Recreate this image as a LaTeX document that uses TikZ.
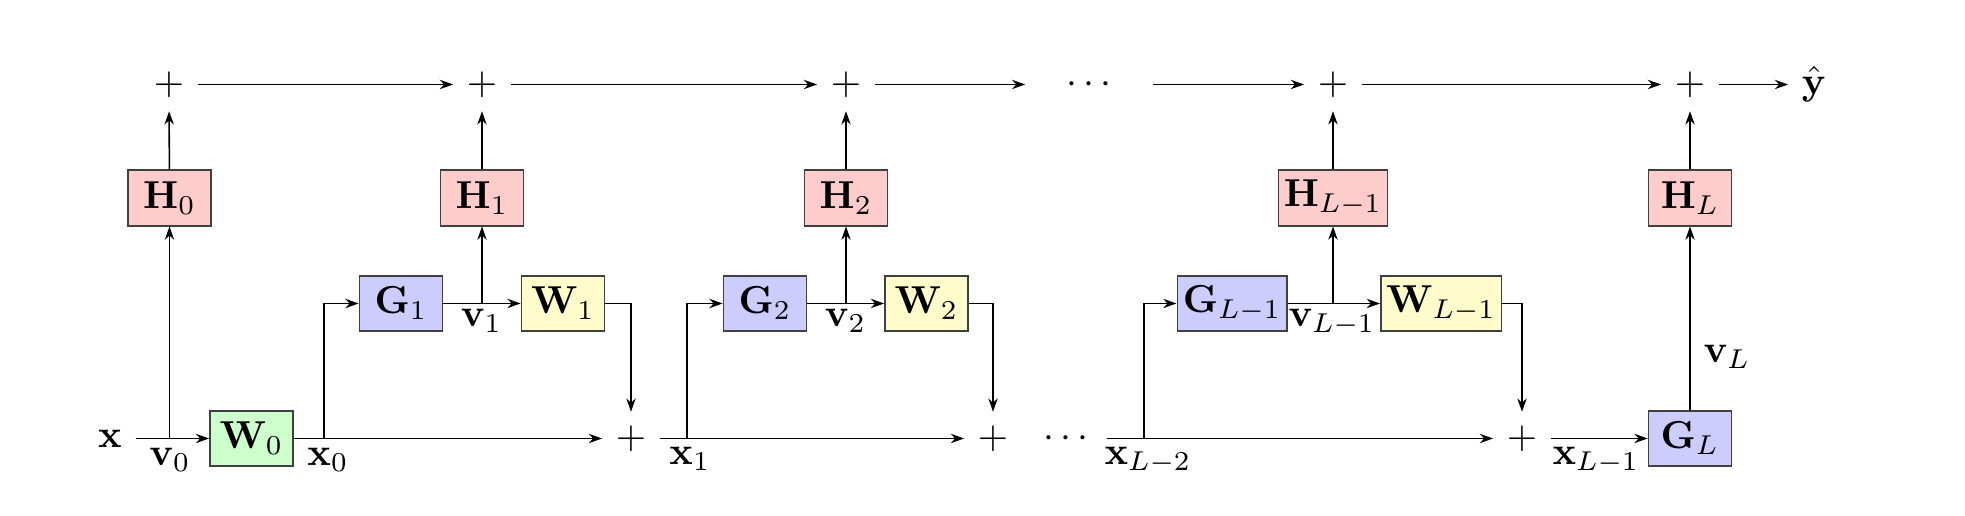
\documentclass[tikz,border=0pt]{standalone}
\usetikzlibrary{arrows.meta}
\begin{document}
\begin{tikzpicture}[x=0.2564pt,y=-0.2564pt,
  arr/.style={-{Stealth[length=3.4pt,width=2.4pt]},line width=0.4pt},
  blk/.style={draw=black!75,line width=0.4pt,inner sep=1.4pt,minimum width=0.75cm,minimum height=0.5cm},
  hbox/.style={blk,fill=red!20},
  gbox/.style={blk,fill=blue!20},
  wbox/.style={blk,fill=yellow!20},
  w0box/.style={blk,fill=green!20},
  plusn/.style={inner sep=3.33pt},
  lbl/.style={anchor=base,inner sep=0pt}]
\useasboundingbox (0,0) rectangle (1965,516);
% top row
\node[plusn] (t0) at (169,84.5) {$+$};
\node[plusn] (t1) at (482,84.5) {$+$};
\node[plusn] (t2) at (846,84.5) {$+$};
\node[minimum width=32.3pt] (td) at (1089,84.5) {$\cdots$};
\node[plusn] (tL1) at (1333,84.5) {$+$};
\node[plusn] (tL) at (1690,84.5) {$+$};
\node (yhat) at (1814,84.5) {$\hat{\mathbf{y}}$};
% H row
\node[hbox] (H0) at (169.5,198) {$\mathbf{H}_0$};
\node[hbox] (H1) at (482,198) {$\mathbf{H}_1$};
\node[hbox] (H2) at (846,198) {$\mathbf{H}_2$};
\node[hbox] (HL1) at (1333,198) {$\mathbf{H}_{L-1}$};
\node[hbox] (HL) at (1690,198) {$\mathbf{H}_L$};
% G/W row
\node[gbox] (G1) at (401,303.5) {$\mathbf{G}_1$};
\node[wbox] (W1) at (563,303.5) {$\mathbf{W}_1$};
\node[gbox] (G2) at (765,303.5) {$\mathbf{G}_2$};
\node[wbox] (W2) at (926.5,303.5) {$\mathbf{W}_2$};
\node[gbox] (GL1) at (1232,303.5) {$\mathbf{G}_{L-1}$};
\node[wbox] (WL1) at (1441,303.5) {$\mathbf{W}_{L-1}$};
% bottom row
\node (xin) at (110,438.5) {$\mathbf{x}$};
\node[w0box] (W0) at (251.5,438.5) {$\mathbf{W}_0$};
\node[plusn] (b1) at (631,438.5) {$+$};
\node[plusn] (b2) at (993,438.5) {$+$};
\node[minimum width=20.5pt] (bd) at (1066,438.5) {$\cdots$};
\node[plusn] (bL1) at (1522,438.5) {$+$};
\node[gbox] (GL) at (1690,438.5) {$\mathbf{G}_L$};
% branch coordinates
\coordinate (c0) at (324,438.5);
\coordinate (c1) at (687,438.5);
\coordinate (c2) at (1144,438.5);
% labels
\node[lbl] (lv0) at (170,466) {$\mathbf{v}_0$};
\node[lbl] (lx0) at (328,466) {$\mathbf{x}_0$};
\node[lbl] (lv1) at (481.5,327) {$\mathbf{v}_1$};
\node[lbl] (lx1) at (690,465) {$\mathbf{x}_1$};
\node[lbl] (lv2) at (845.5,327) {$\mathbf{v}_2$};
\node[lbl] (lx2) at (1148,465) {$\mathbf{x}_{L-2}$};
\node[lbl] (lvL1) at (1332,327) {$\mathbf{v}_{L-1}$};
\node[lbl] (lxL1) at (1596,465) {$\mathbf{x}_{L-1}$};
\node[lbl] (lvL) at (1727,363) {$\mathbf{v}_L$};
% top connectors
\draw[arr] (t0) -- (t1);
\draw[arr] (t1) -- (t2);
\draw[arr] (t2) -- (td);
\draw[arr] (td) -- (tL1);
\draw[arr] (tL1) -- (tL);
\draw[arr] (tL) -- (yhat);
\draw[arr] (H0) -- (t0);
\draw[arr] (H1) -- (t1);
\draw[arr] (H2) -- (t2);
\draw[arr] (HL1) -- (tL1);
\draw[arr] (HL) -- (tL);
% block 0
\draw[arr] (xin) -- (W0);
\draw[arr] (H0 |- xin) -- (H0);
\draw[arr] (W0) -- (b1);
% block 1
\draw[arr] (c0) |- (G1);
\draw[arr] (G1) -- (W1);
\draw[arr] (H1 |- G1) -- (H1);
\draw[arr] (W1.east) -| (b1);
% block 2
\draw[arr] (b1) -- (b2);
\draw[arr] (c1) |- (G2);
\draw[arr] (G2) -- (W2);
\draw[arr] (H2 |- G2) -- (H2);
\draw[arr] (W2.east) -| (b2);
% block L-1
\draw[arr] (bd) -- (bL1);
\draw[arr] (c2) |- (GL1);
\draw[arr] (GL1) -- (WL1);
\draw[arr] (HL1 |- GL1) -- (HL1);
\draw[arr] (WL1.east) -| (bL1);
% block L
\draw[arr] (bL1) -- (GL);
\draw[arr] (GL) -- (HL);
\end{tikzpicture}
\end{document}
